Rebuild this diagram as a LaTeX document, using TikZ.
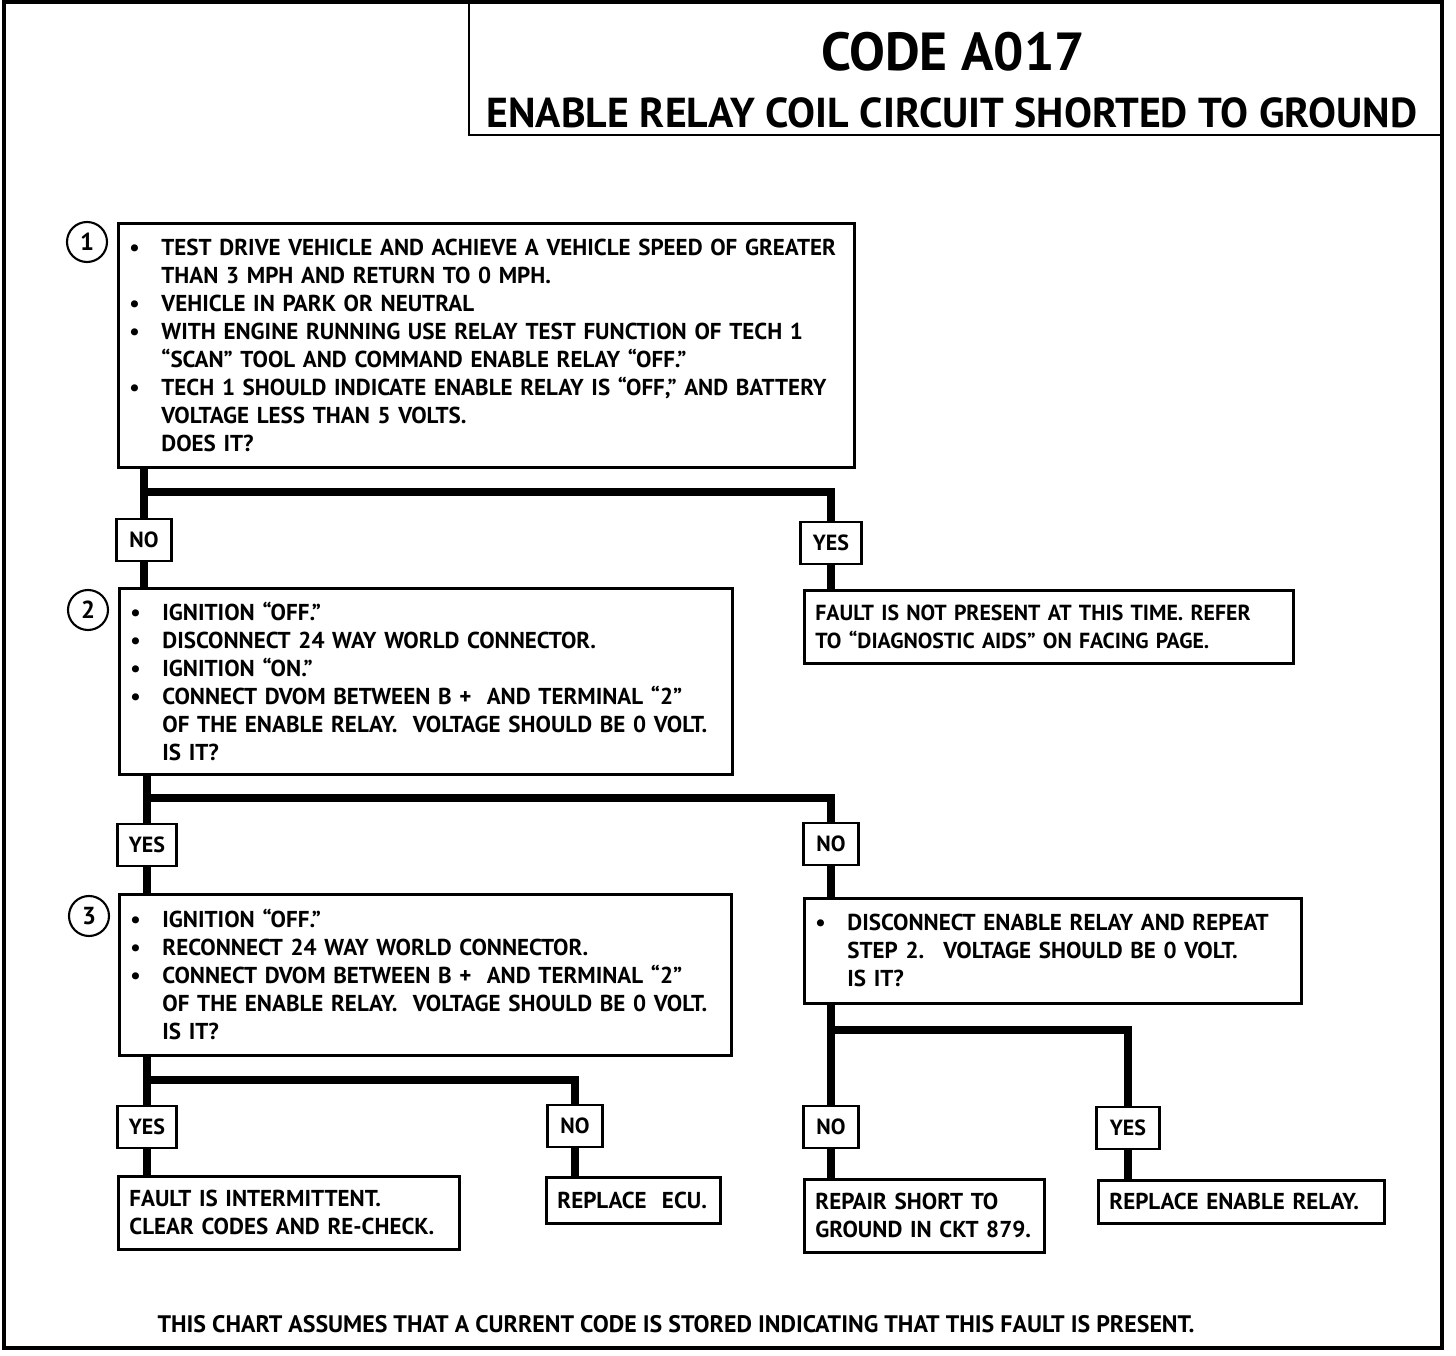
\documentclass[tikz,border=0pt]{standalone}
\usepackage{fontspec}
\setmainfont{PT Sans}
\usetikzlibrary{positioning}

\newcommand{\bul}{\makebox[0.64cm][l]{\textbullet}}
\newcommand{\ind}{\hspace*{0.64cm}}

\tikzset{
  stepbox/.style={draw,line width=1.6pt,anchor=north west,align=left,inner xsep=0.22cm,inner ysep=0pt,
    font=\bfseries\fontsize{13.1}{15.94}\selectfont},
  answer/.style={draw,fill=white,line width=1.6pt,inner sep=0pt,minimum width=1.1cm,minimum height=0.84cm,
    font=\bfseries\fontsize{12.5}{14}\selectfont},
  stepnum/.style={draw,circle,line width=1.2pt,minimum size=0.8cm,inner sep=0pt,font=\bfseries\fontsize{14}{15}\selectfont},
  flow/.style={line width=4pt,line join=miter}
}

\begin{document}
\begin{tikzpicture}[x=0.2mm,y=-0.2mm]
\useasboundingbox (0,0) rectangle (1456,1356);
\draw[line width=2.8pt] (4,2) rectangle (1442,1348);
\draw[line width=1.4pt] (469,2) -- (469,135) -- (1442,135);
\node[font=\bfseries\fontsize{30.5}{32}\selectfont] (title) at (953,52) {CODE A017};
\node[font=\bfseries\fontsize{23.8}{26}\selectfont] (subtitle) at (952,113) {ENABLE RELAY COIL CIRCUIT SHORTED TO GROUND};

% step boxes
\node[stepbox,text width=14.28cm,minimum height=4.88cm] (s1) at (117,222) {%
\bul TEST DRIVE VEHICLE AND ACHIEVE A VEHICLE SPEED OF GREATER\\
\ind THAN 3 MPH AND RETURN TO 0 MPH.\\
\bul VEHICLE IN PARK OR NEUTRAL\\
\bul WITH ENGINE RUNNING USE RELAY TEST FUNCTION OF TECH 1\\
\ind ``SCAN'' TOOL AND COMMAND ENABLE RELAY ``OFF.''\\
\bul TECH 1 SHOULD INDICATE ENABLE RELAY IS ``OFF,'' AND BATTERY\\
\ind VOLTAGE LESS THAN 5 VOLTS.\\
\ind DOES IT?};
\node[stepbox,text width=11.82cm,minimum height=3.72cm] (s2) at (118,587) {%
\bul IGNITION ``OFF.''\\
\bul DISCONNECT 24 WAY WORLD CONNECTOR.\\
\bul IGNITION ``ON.''\\
\bul CONNECT DVOM BETWEEN B + \ AND TERMINAL ``2''\\
\ind OF THE ENABLE RELAY. \ VOLTAGE SHOULD BE 0 VOLT.\\
\ind IS IT?};
\node[stepbox,text width=11.8cm,minimum height=3.22cm] (s3) at (118,893) {%
\bul IGNITION ``OFF.''\\
\bul RECONNECT 24 WAY WORLD CONNECTOR.\\
\bul CONNECT DVOM BETWEEN B + \ AND TERMINAL ``2''\\
\ind OF THE ENABLE RELAY. \ VOLTAGE SHOULD BE 0 VOLT.\\
\ind IS IT?};
\node[stepbox,text width=9.34cm,minimum height=1.46cm,font=\bfseries\fontsize{12.4}{15.94}\selectfont] (f1) at (803,589) {%
FAULT IS NOT PRESENT AT THIS TIME. REFER\\
TO ``DIAGNOSTIC AIDS'' ON FACING PAGE.};
\node[stepbox,text width=9.5cm,minimum height=2.1cm] (d1) at (803,897) {%
\bul DISCONNECT ENABLE RELAY AND REPEAT\\
\ind STEP 2. \ VOLTAGE SHOULD BE 0 VOLT.\\
\ind IS IT?};

% end boxes
\node[stepbox,text width=6.38cm,minimum height=1.46cm] (e1) at (117,1175) {%
FAULT IS INTERMITTENT.\\
CLEAR CODES AND RE-CHECK.};
\node[stepbox,text width=3.04cm,minimum height=0.92cm] (e2) at (545,1176) {REPLACE \ ECU.};
\node[stepbox,text width=4.36cm,minimum height=1.46cm] (e3) at (803,1178) {%
REPAIR SHORT TO\\
GROUND IN CKT 879.};
\node[stepbox,text width=5.28cm,minimum height=0.86cm] (e4) at (1097,1179) {REPLACE ENABLE RELAY.};

% step numbers
\node[stepnum] (n1) at (87,242) {1};
\node[stepnum] (n2) at (88,610) {2};
\node[stepnum] (n3) at (89,916) {3};

% answers
\node[answer] (no1) at (144,540) {NO};
\node[answer,minimum width=1.22cm] (yes1) at (831,543) {YES};
\node[answer,minimum width=1.18cm] (yes2) at (147,845) {YES};
\node[answer] (no2) at (831,844) {NO};
\node[answer,minimum width=1.18cm] (yes3) at (147,1127) {YES};
\node[answer] (no3) at (575,1126) {NO};
\node[answer] (no4) at (831,1127) {NO};
\node[answer,minimum width=1.26cm] (yes4) at (1128,1128) {YES};

\coordinate (b1) at (0,492);
\coordinate (b2) at (0,798);
\coordinate (b3) at (0,1080);
\coordinate (b4) at (0,1030);

\draw[flow] (s1.south -| no1) -- (no1.north);
\draw[flow] (no1.south) -- (s2.north -| no1);
\draw[flow] (b1 -| no1) -| (yes1.north);
\draw[flow] (yes1.south) -- (f1.north -| yes1);

\draw[flow] (s2.south -| yes2) -- (yes2.north);
\draw[flow] (yes2.south) -- (s3.north -| yes2);
\draw[flow] (b2 -| yes2) -| (no2.north);
\draw[flow] (no2.south) -- (d1.north -| no2);

\draw[flow] (s3.south -| yes3) -- (yes3.north);
\draw[flow] (yes3.south) -- (e1.north -| yes3);
\draw[flow] (b3 -| yes3) -| (no3.north);
\draw[flow] (no3.south) -- (e2.north -| no3);

\draw[flow] (d1.south -| no4) -- (no4.north);
\draw[flow] (no4.south) -- (e3.north -| no4);
\draw[flow] (b4 -| no4) -| (yes4.north);
\draw[flow] (yes4.south) -- (e4.north -| yes4);

\node[font=\bfseries\fontsize{13.6}{15}\selectfont] (note) at (676,1324)
  {THIS CHART ASSUMES THAT A CURRENT CODE IS STORED INDICATING THAT THIS FAULT IS PRESENT.};
\end{tikzpicture}
\end{document}
